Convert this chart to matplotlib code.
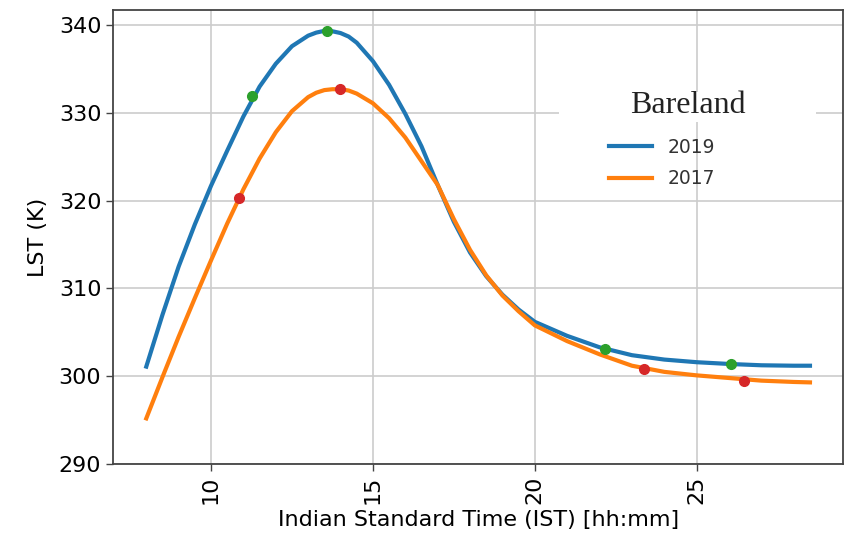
import matplotlib.pyplot as plt
from matplotlib.patches import Rectangle

# hour of day (IST) and land surface temperature (K) for bareland
hours = [8, 8.5, 9, 9.5, 10, 10.5, 11, 11.5, 12, 12.5, 13, 13.25, 13.5, 13.75, 14, 14.25,
         14.5, 15, 15.5, 16, 16.5, 17, 17.5, 18, 18.5, 19, 19.5, 20, 21, 22, 23, 24, 25,
         26, 27, 28, 28.5]
lst_2019 = [301.1, 307.0, 312.5, 317.3, 321.7, 325.7, 329.6, 333.0, 335.6, 337.6, 338.8, 339.15,
            339.35, 339.3, 339.1, 338.7, 338.0, 335.9, 333.2, 329.9, 326.2, 321.8, 317.6, 314.1,
            311.4, 309.3, 307.6, 306.2, 304.6, 303.3, 302.4, 301.9, 301.6, 301.4, 301.25,
            301.2, 301.2]
lst_2017 = [295.2, 299.9, 304.5, 308.9, 313.2, 317.4, 321.3, 324.8, 327.8, 330.2, 331.8, 332.3,
            332.6, 332.7, 332.7, 332.55, 332.2, 331.1, 329.4, 327.2, 324.5, 321.8, 317.9, 314.4,
            311.5, 309.2, 307.4, 305.8, 304.0, 302.5, 301.2, 300.5, 300.1, 299.8, 299.5,
            299.35, 299.3]

# highlighted points on each curve
pts_2019_x = [11.26, 13.57, 22.18, 26.07]
pts_2019_y = [331.9, 339.3, 303.06, 301.4]
pts_2017_x = [10.87, 13.97, 23.37, 26.47]
pts_2017_y = [320.3, 332.7, 300.8, 299.5]

fig = plt.figure(figsize=(8.44, 5.38), dpi=100)
ax = fig.add_axes([0.134, 0.1375, 0.865, 0.8435])

ax.plot(hours, lst_2019, color='#1f77b4', lw=3, label='2019')
ax.plot(hours, lst_2017, color='#ff7f0e', lw=3, label='2017')
ax.plot(pts_2019_x, pts_2019_y, 'o', color='#2ca02c', ms=7, zorder=4)
ax.plot(pts_2017_x, pts_2017_y, 'o', color='#d62728', ms=7, zorder=4)

ax.set_ylim(290, 341.7)
ax.set_yticks([290, 300, 310, 320, 330, 340])
ax.set_xticks([10, 15, 20, 25])
ax.grid(True, color='#cccccc', lw=1.2)
ax.tick_params(labelsize=16, length=5, width=1.0, color='#444444')
plt.setp(ax.get_xticklabels(), rotation=90)
for sp in ax.spines.values():
    sp.set_color('#444444')
    sp.set_linewidth(1.3)

ax.set_xlabel('Indian Standard Time (IST) [hh:mm]', fontsize=16, labelpad=4)
ax.set_ylabel('LST (K)', fontsize=16, labelpad=8)

# white patch behind the title (covers the grid there)
ax.add_patch(Rectangle((0.611, 0.753), 0.352, 0.066, transform=ax.transAxes,
                       facecolor='white', edgecolor='none', zorder=2))
ax.text(0.787, 0.791, 'Bareland', transform=ax.transAxes, ha='center', va='center',
        family='Liberation Serif', fontsize=23, color='#222222', zorder=3)

leg = ax.legend(loc='center', bbox_to_anchor=(0.752, 0.663), frameon=False,
                fontsize=13.5, handlelength=2.3, handletextpad=0.8, labelspacing=0.65)
for t in leg.get_texts():
    t.set_color('#333333')

fig.savefig('out.png', dpi=100)
